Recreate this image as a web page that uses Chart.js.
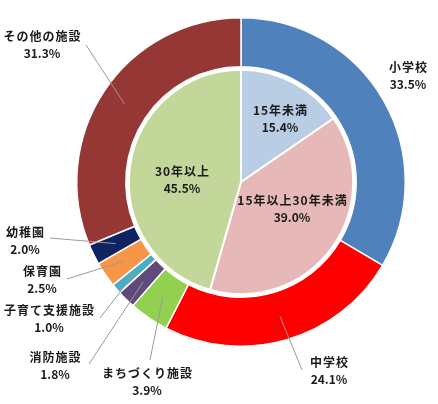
<!DOCTYPE html>
<html>
<head>
<meta charset="utf-8">
<script src="https://cdn.jsdelivr.net/npm/chart.js@4.4.1/dist/chart.umd.min.js"></script>
<style>
  html, body { margin: 0; padding: 0; background: #ffffff; }
  #wrap { width: 438px; height: 404px; }
</style>
</head>
<body>
<div id="wrap"><canvas id="c" width="438" height="404"></canvas></div>
<script>
// Outer ring: floor-area share by facility type (%)
const facilityNames = ['小学校', '中学校', 'まちづくり施設', '消防施設', '子育て支援施設', '保育園', '幼稚園', 'その他の施設'];
const facilityShares = [33.5, 24.1, 3.9, 1.8, 1.0, 2.5, 2.0, 31.3];
const facilityColors = ['#4F81BD', '#FF0000', '#92D050', '#604A7B', '#4BACC6', '#F79646', '#0F2460', '#953735'];

// Inner pie: share by building age (%)
const ageNames = ['15年未満', '15年以上30年未満', '30年以上'];
const ageShares = [15.4, 39.0, 45.5];
const ageColors = ['#B9CDE5', '#E6B9B8', '#C4D79B'];

// Label placement (text centre) and leader-line end for each slice; null = no leader
const facilityLabelPos = [
  { x: 408, y: 67, lead: null },
  { x: 329, y: 362, lead: [302, 370] },
  { x: 147, y: 373, lead: [150, 360] },
  { x: 55, y: 357, lead: [89, 364] },
  { x: 49, y: 310, lead: [100, 318] },
  { x: 42, y: 271, lead: [67, 279] },
  { x: 25, y: 232, lead: [50, 238] },
  { x: 42, y: 36, lead: [86, 45] }
];
const ageLabelPos = [
  { x: 280, y: 110 },
  { x: 292, y: 200 },
  { x: 182, y: 171 }
];

const FONT = '"Noto Sans CJK JP", "Noto Sans", sans-serif';

const sliceLabels = {
  id: 'sliceLabels',
  afterDatasetsDraw(chart) {
    const ctx = chart.ctx;
    ctx.save();
    ctx.textAlign = 'center';
    ctx.textBaseline = 'middle';
    ctx.fillStyle = '#1a1a1a';

    const drawPair = (name, value, x, y) => {
      ctx.font = 'bold 12px ' + FONT;
      ctx.letterSpacing = '1px';
      ctx.fillText(name, x + 0.5, y);
      ctx.letterSpacing = '0px';
      ctx.fillText(value.toFixed(1) + '%', x, y + 17);
    };

    // leader lines for the outer ring
    const outer = chart.getDatasetMeta(0);
    ctx.strokeStyle = '#9a9a9a';
    ctx.lineWidth = 1;
    outer.data.forEach((arc, i) => {
      const pos = facilityLabelPos[i];
      if (!pos.lead) return;
      const p = arc.getProps(['x', 'y', 'startAngle', 'endAngle', 'innerRadius', 'outerRadius'], true);
      const mid = (p.startAngle + p.endAngle) / 2;
      const r = (p.innerRadius + p.outerRadius) / 2;
      ctx.beginPath();
      ctx.moveTo(p.x + Math.cos(mid) * r, p.y + Math.sin(mid) * r);
      ctx.lineTo(pos.lead[0], pos.lead[1]);
      ctx.stroke();
    });

    facilityNames.forEach((n, i) => drawPair(n, facilityShares[i], facilityLabelPos[i].x, facilityLabelPos[i].y));
    ageNames.forEach((n, i) => drawPair(n, ageShares[i], ageLabelPos[i].x, ageLabelPos[i].y));
    ctx.restore();
  }
};

new Chart(document.getElementById('c'), {
  type: 'doughnut',
  data: {
    labels: facilityNames,
    datasets: [
      {
        data: facilityShares,
        backgroundColor: facilityColors,
        borderColor: '#ffffff',
        borderWidth: 1.5,
        weight: 49
      },
      {
        // thin white band separating the ring from the pie
        data: [1],
        backgroundColor: ['#ffffff'],
        borderWidth: 0,
        weight: 3
      },
      {
        data: ageShares,
        backgroundColor: ageColors,
        borderColor: '#ffffff',
        borderWidth: 2,
        weight: 112
      }
    ]
  },
  options: {
    responsive: false,
    animation: false,
    events: [],
    cutout: 0,
    layout: { padding: { left: 76, top: 17, right: 32, bottom: 57 } },
    plugins: {
      legend: { display: false },
      tooltip: { enabled: false }
    }
  },
  plugins: [sliceLabels]
});
</script>
</body>
</html>
